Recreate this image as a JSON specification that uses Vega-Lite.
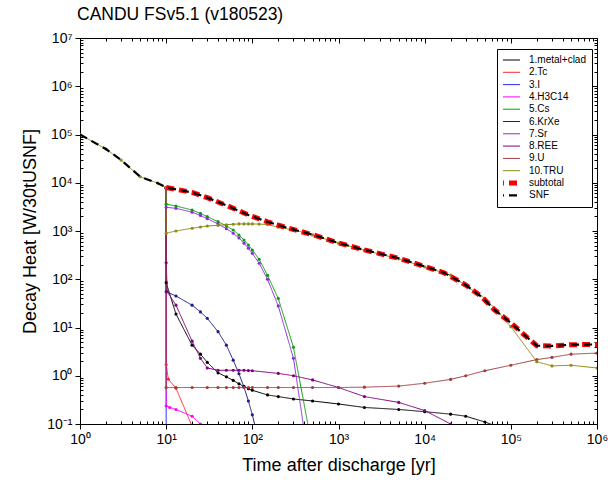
{
  "$schema": "https://vega.github.io/schema/vega-lite/v6.json",
  "width": 517,
  "height": 386,
  "autosize": {"type": "none"},
  "padding": {"left": 80, "top": 38, "right": 11, "bottom": 70},
  "title": {"text": "CANDU FSv5.1 (v180523)", "anchor": "start", "frame": "group", "offset": 8, "dx": -3, "fontSize": 17.5, "fontWeight": "normal", "font": "Liberation Sans", "color": "black"},
  "config": {
    "font": "Liberation Sans",
    "view": {"stroke": "black", "strokeWidth": 1},
    "axis": {"domain": false, "grid": false, "tickColor": "black", "tickWidth": 1, "labelColor": "black", "labelFontSize": 14, "labelFont": "Liberation Sans", "titleFont": "Liberation Sans", "titleFontSize": 18, "titleFontWeight": "normal", "titleColor": "black", "labelOverlap": false, "labelFlush": false},
    "legend": {"orient": "none", "legendX": 417, "legendY": 11, "strokeColor": "black", "fillColor": "white", "padding": 6, "labelFontSize": 10, "labelFont": "Liberation Sans", "labelColor": "black", "symbolType": "stroke", "symbolSize": 576, "clipHeight": 10, "rowPadding": 2.3, "labelOffset": 16, "symbolStrokeWidth": 1}
  },
  "data": {"values": [
    {"s": "1.metal+clad", "t": 10, "v": 7800}, {"s": "1.metal+clad", "t": 10, "v": 85}, {"s": "1.metal+clad", "t": 13, "v": 19}, {"s": "1.metal+clad", "t": 20, "v": 4.3}, {"s": "1.metal+clad", "t": 25, "v": 2.8}, {"s": "1.metal+clad", "t": 30, "v": 1.9}, {"s": "1.metal+clad", "t": 40, "v": 1.15}, {"s": "1.metal+clad", "t": 50, "v": 0.95}, {"s": "1.metal+clad", "t": 60, "v": 0.8}, {"s": "1.metal+clad", "t": 70, "v": 0.68}, {"s": "1.metal+clad", "t": 80, "v": 0.6}, {"s": "1.metal+clad", "t": 90, "v": 0.54}, {"s": "1.metal+clad", "t": 100, "v": 0.5}, {"s": "1.metal+clad", "t": 150, "v": 0.4}, {"s": "1.metal+clad", "t": 200, "v": 0.37}, {"s": "1.metal+clad", "t": 300, "v": 0.33}, {"s": "1.metal+clad", "t": 500, "v": 0.3}, {"s": "1.metal+clad", "t": 1000, "v": 0.26}, {"s": "1.metal+clad", "t": 2000, "v": 0.22}, {"s": "1.metal+clad", "t": 5000, "v": 0.2}, {"s": "1.metal+clad", "t": 10000, "v": 0.18}, {"s": "1.metal+clad", "t": 20000, "v": 0.16}, {"s": "1.metal+clad", "t": 30000, "v": 0.145}, {"s": "1.metal+clad", "t": 50000, "v": 0.11}, {"s": "1.metal+clad", "t": 100000, "v": 0.07},
    {"s": "2.Tc", "t": 10, "v": 7800}, {"s": "2.Tc", "t": 10, "v": 1.7}, {"s": "2.Tc", "t": 10.6, "v": 0.85}, {"s": "2.Tc", "t": 13, "v": 0.55}, {"s": "2.Tc", "t": 20, "v": 0.09},
    {"s": "3.I", "t": 10, "v": 7800}, {"s": "3.I", "t": 10, "v": 0.05}, {"s": "3.I", "t": 100, "v": 0.03},
    {"s": "4.H3C14", "t": 10, "v": 7800}, {"s": "4.H3C14", "t": 10, "v": 0.236}, {"s": "4.H3C14", "t": 11, "v": 0.22}, {"s": "4.H3C14", "t": 13, "v": 0.2}, {"s": "4.H3C14", "t": 20, "v": 0.145}, {"s": "4.H3C14", "t": 25, "v": 0.1}, {"s": "4.H3C14", "t": 30, "v": 0.08},
    {"s": "5.Cs", "t": 10, "v": 7800}, {"s": "5.Cs", "t": 10, "v": 3600}, {"s": "5.Cs", "t": 13, "v": 3300}, {"s": "5.Cs", "t": 20, "v": 2720}, {"s": "5.Cs", "t": 25, "v": 2320}, {"s": "5.Cs", "t": 30, "v": 1980}, {"s": "5.Cs", "t": 40, "v": 1560}, {"s": "5.Cs", "t": 50, "v": 1270}, {"s": "5.Cs", "t": 60, "v": 1050}, {"s": "5.Cs", "t": 70, "v": 826}, {"s": "5.Cs", "t": 80, "v": 650}, {"s": "5.Cs", "t": 90, "v": 513}, {"s": "5.Cs", "t": 100, "v": 403}, {"s": "5.Cs", "t": 120, "v": 259}, {"s": "5.Cs", "t": 150, "v": 120}, {"s": "5.Cs", "t": 200, "v": 40}, {"s": "5.Cs", "t": 300, "v": 3.9}, {"s": "5.Cs", "t": 500, "v": 0.03},
    {"s": "6.KrXe", "t": 10, "v": 7800}, {"s": "6.KrXe", "t": 10, "v": 55}, {"s": "6.KrXe", "t": 13, "v": 45}, {"s": "6.KrXe", "t": 20, "v": 29}, {"s": "6.KrXe", "t": 25, "v": 21}, {"s": "6.KrXe", "t": 30, "v": 15.5}, {"s": "6.KrXe", "t": 40, "v": 8.2}, {"s": "6.KrXe", "t": 50, "v": 4.3}, {"s": "6.KrXe", "t": 60, "v": 2.1}, {"s": "6.KrXe", "t": 70, "v": 1.1}, {"s": "6.KrXe", "t": 80, "v": 0.58}, {"s": "6.KrXe", "t": 90, "v": 0.3}, {"s": "6.KrXe", "t": 100, "v": 0.155}, {"s": "6.KrXe", "t": 120, "v": 0.04},
    {"s": "7.Sr", "t": 10, "v": 7800}, {"s": "7.Sr", "t": 10, "v": 3100}, {"s": "7.Sr", "t": 13, "v": 2950}, {"s": "7.Sr", "t": 20, "v": 2450}, {"s": "7.Sr", "t": 25, "v": 2100}, {"s": "7.Sr", "t": 30, "v": 1800}, {"s": "7.Sr", "t": 40, "v": 1400}, {"s": "7.Sr", "t": 50, "v": 1120}, {"s": "7.Sr", "t": 60, "v": 900}, {"s": "7.Sr", "t": 70, "v": 720}, {"s": "7.Sr", "t": 80, "v": 560}, {"s": "7.Sr", "t": 90, "v": 440}, {"s": "7.Sr", "t": 100, "v": 345}, {"s": "7.Sr", "t": 120, "v": 215}, {"s": "7.Sr", "t": 150, "v": 100}, {"s": "7.Sr", "t": 200, "v": 28}, {"s": "7.Sr", "t": 300, "v": 2.3}, {"s": "7.Sr", "t": 500, "v": 0.005},
    {"s": "8.REE", "t": 10, "v": 7800}, {"s": "8.REE", "t": 10, "v": 220}, {"s": "8.REE", "t": 10.3, "v": 55}, {"s": "8.REE", "t": 13, "v": 29}, {"s": "8.REE", "t": 20, "v": 5.2}, {"s": "8.REE", "t": 25, "v": 2.3}, {"s": "8.REE", "t": 30, "v": 1.45}, {"s": "8.REE", "t": 40, "v": 1.3}, {"s": "8.REE", "t": 50, "v": 1.3}, {"s": "8.REE", "t": 60, "v": 1.3}, {"s": "8.REE", "t": 70, "v": 1.3}, {"s": "8.REE", "t": 80, "v": 1.3}, {"s": "8.REE", "t": 90, "v": 1.28}, {"s": "8.REE", "t": 100, "v": 1.27}, {"s": "8.REE", "t": 200, "v": 1.12}, {"s": "8.REE", "t": 300, "v": 1.0}, {"s": "8.REE", "t": 500, "v": 0.82}, {"s": "8.REE", "t": 1000, "v": 0.57}, {"s": "8.REE", "t": 2000, "v": 0.37}, {"s": "8.REE", "t": 5000, "v": 0.28}, {"s": "8.REE", "t": 10000, "v": 0.19}, {"s": "8.REE", "t": 20000, "v": 0.1}, {"s": "8.REE", "t": 30000, "v": 0.05},
    {"s": "9.U", "t": 10, "v": 7800}, {"s": "9.U", "t": 10, "v": 0.57}, {"s": "9.U", "t": 13, "v": 0.57}, {"s": "9.U", "t": 20, "v": 0.57}, {"s": "9.U", "t": 30, "v": 0.57}, {"s": "9.U", "t": 40, "v": 0.57}, {"s": "9.U", "t": 50, "v": 0.57}, {"s": "9.U", "t": 60, "v": 0.57}, {"s": "9.U", "t": 70, "v": 0.57}, {"s": "9.U", "t": 80, "v": 0.57}, {"s": "9.U", "t": 90, "v": 0.57}, {"s": "9.U", "t": 100, "v": 0.57}, {"s": "9.U", "t": 150, "v": 0.57}, {"s": "9.U", "t": 200, "v": 0.57}, {"s": "9.U", "t": 300, "v": 0.57}, {"s": "9.U", "t": 500, "v": 0.57}, {"s": "9.U", "t": 1000, "v": 0.57}, {"s": "9.U", "t": 2000, "v": 0.58}, {"s": "9.U", "t": 5000, "v": 0.61}, {"s": "9.U", "t": 10000, "v": 0.7}, {"s": "9.U", "t": 20000, "v": 0.84}, {"s": "9.U", "t": 30000, "v": 1.0}, {"s": "9.U", "t": 50000, "v": 1.27}, {"s": "9.U", "t": 100000, "v": 1.65}, {"s": "9.U", "t": 200000, "v": 2.16}, {"s": "9.U", "t": 300000, "v": 2.4}, {"s": "9.U", "t": 500000, "v": 2.8}, {"s": "9.U", "t": 1000000, "v": 2.95},
    {"s": "10.TRU", "t": 1, "v": 100000}, {"s": "10.TRU", "t": 2, "v": 50000}, {"s": "10.TRU", "t": 3, "v": 29500}, {"s": "10.TRU", "t": 5, "v": 13300}, {"s": "10.TRU", "t": 8, "v": 9800}, {"s": "10.TRU", "t": 10, "v": 7800}, {"s": "10.TRU", "t": 10, "v": 900}, {"s": "10.TRU", "t": 13, "v": 1000}, {"s": "10.TRU", "t": 20, "v": 1140}, {"s": "10.TRU", "t": 25, "v": 1210}, {"s": "10.TRU", "t": 30, "v": 1270}, {"s": "10.TRU", "t": 40, "v": 1310}, {"s": "10.TRU", "t": 50, "v": 1350}, {"s": "10.TRU", "t": 60, "v": 1380}, {"s": "10.TRU", "t": 70, "v": 1400}, {"s": "10.TRU", "t": 80, "v": 1400}, {"s": "10.TRU", "t": 90, "v": 1400}, {"s": "10.TRU", "t": 100, "v": 1400}, {"s": "10.TRU", "t": 120, "v": 1390}, {"s": "10.TRU", "t": 150, "v": 1360}, {"s": "10.TRU", "t": 200, "v": 1200}, {"s": "10.TRU", "t": 300, "v": 1060}, {"s": "10.TRU", "t": 500, "v": 830}, {"s": "10.TRU", "t": 1000, "v": 560}, {"s": "10.TRU", "t": 2000, "v": 400}, {"s": "10.TRU", "t": 5000, "v": 265}, {"s": "10.TRU", "t": 10000, "v": 180}, {"s": "10.TRU", "t": 20000, "v": 122}, {"s": "10.TRU", "t": 30000, "v": 74}, {"s": "10.TRU", "t": 50000, "v": 40}, {"s": "10.TRU", "t": 70000, "v": 22}, {"s": "10.TRU", "t": 100000, "v": 10.4}, {"s": "10.TRU", "t": 200000, "v": 1.96}, {"s": "10.TRU", "t": 300000, "v": 1.6}, {"s": "10.TRU", "t": 500000, "v": 1.65}, {"s": "10.TRU", "t": 1000000, "v": 1.45},
    {"s": "subtotal", "t": 10, "v": 8000}, {"s": "subtotal", "t": 13, "v": 7300}, {"s": "subtotal", "t": 20, "v": 6300}, {"s": "subtotal", "t": 30, "v": 4900}, {"s": "subtotal", "t": 50, "v": 3400}, {"s": "subtotal", "t": 90, "v": 2150}, {"s": "subtotal", "t": 150, "v": 1550}, {"s": "subtotal", "t": 250, "v": 1170}, {"s": "subtotal", "t": 500, "v": 840}, {"s": "subtotal", "t": 1000, "v": 565}, {"s": "subtotal", "t": 2000, "v": 405}, {"s": "subtotal", "t": 5000, "v": 272}, {"s": "subtotal", "t": 10000, "v": 184}, {"s": "subtotal", "t": 17000, "v": 135}, {"s": "subtotal", "t": 30000, "v": 76}, {"s": "subtotal", "t": 46000, "v": 43}, {"s": "subtotal", "t": 65000, "v": 23}, {"s": "subtotal", "t": 100000, "v": 12.5}, {"s": "subtotal", "t": 130000, "v": 8.2}, {"s": "subtotal", "t": 200000, "v": 4.2}, {"s": "subtotal", "t": 300000, "v": 4.15}, {"s": "subtotal", "t": 500000, "v": 4.4}, {"s": "subtotal", "t": 1000000, "v": 4.45},
    {"s": "SNF", "t": 1, "v": 100000}, {"s": "SNF", "t": 2, "v": 50000}, {"s": "SNF", "t": 3, "v": 29500}, {"s": "SNF", "t": 5, "v": 13300}, {"s": "SNF", "t": 8, "v": 9800}, {"s": "SNF", "t": 10, "v": 8000}, {"s": "SNF", "t": 13, "v": 7300}, {"s": "SNF", "t": 20, "v": 6300}, {"s": "SNF", "t": 30, "v": 4900}, {"s": "SNF", "t": 50, "v": 3400}, {"s": "SNF", "t": 90, "v": 2150}, {"s": "SNF", "t": 150, "v": 1550}, {"s": "SNF", "t": 250, "v": 1170}, {"s": "SNF", "t": 500, "v": 840}, {"s": "SNF", "t": 1000, "v": 565}, {"s": "SNF", "t": 2000, "v": 405}, {"s": "SNF", "t": 5000, "v": 272}, {"s": "SNF", "t": 10000, "v": 184}, {"s": "SNF", "t": 17000, "v": 135}, {"s": "SNF", "t": 30000, "v": 76}, {"s": "SNF", "t": 46000, "v": 43}, {"s": "SNF", "t": 65000, "v": 23}, {"s": "SNF", "t": 100000, "v": 12.5}, {"s": "SNF", "t": 130000, "v": 8.2}, {"s": "SNF", "t": 200000, "v": 4.2}, {"s": "SNF", "t": 300000, "v": 4.15}, {"s": "SNF", "t": 500000, "v": 4.4}, {"s": "SNF", "t": 1000000, "v": 4.45}
  ]},
  "layer": [
    {
      "transform": [{"filter": "datum.s != 'subtotal' && datum.s != 'SNF'"}],
      "mark": {"type": "line", "clip": true, "strokeWidth": 1, "point": {"filled": true, "size": 10}},
      "encoding": {
        "x": {"field": "t", "type": "quantitative", "scale": {"type": "log", "domain": [1, 1000000]},
          "axis": {"orient": "bottom", "title": "Time after discharge [yr]", "titlePadding": 10,
            "values": [1,2,3,4,5,6,7,8,9,10,20,30,40,50,60,70,80,90,100,200,300,400,500,600,700,800,900,1000,2000,3000,4000,5000,6000,7000,8000,9000,10000,20000,30000,40000,50000,60000,70000,80000,90000,100000,200000,300000,400000,500000,600000,700000,800000,900000,1000000],
            "labelExpr": "abs(log(datum.value)/LN10 - round(log(datum.value)/LN10)) < 0.001 ? '10' + ['\u207b\u00b9','\u2070','\u00b9','\u00b2','\u00b3','\u2074','\u2075','\u2076','\u2077'][round(log(datum.value)/LN10) + 1] : ''",
            "labelPadding": 3,
            "tickSize": {"condition": {"test": "abs(log(datum.value)/LN10 - round(log(datum.value)/LN10)) < 0.001", "value": 5}, "value": -3}}},
        "y": {"field": "v", "type": "quantitative", "scale": {"type": "log", "domain": [0.1, 10000000]},
          "axis": {"orient": "left", "title": "Decay Heat [W/30tUSNF]", "titleX": -41, "titleY": 193,
            "values": [0.1,0.2,0.3,0.4,0.5,0.6,0.7,0.8,0.9,1,2,3,4,5,6,7,8,9,10,20,30,40,50,60,70,80,90,100,200,300,400,500,600,700,800,900,1000,2000,3000,4000,5000,6000,7000,8000,9000,10000,20000,30000,40000,50000,60000,70000,80000,90000,100000,200000,300000,400000,500000,600000,700000,800000,900000,1000000,2000000,3000000,4000000,5000000,6000000,7000000,8000000,9000000,10000000],
            "labelExpr": "abs(log(datum.value)/LN10 - round(log(datum.value)/LN10)) < 0.001 ? '10' + ['\u207b\u00b9','\u2070','\u00b9','\u00b2','\u00b3','\u2074','\u2075','\u2076','\u2077'][round(log(datum.value)/LN10) + 1] : ''",
            "labelPadding": 3,
            "tickSize": {"condition": {"test": "abs(log(datum.value)/LN10 - round(log(datum.value)/LN10)) < 0.001", "value": 5}, "value": -3}}},
        "color": {"field": "s", "type": "nominal",
          "legend": {"title": null, "encode": {"symbols": {"update": {"strokeWidth": {"signal": "datum.label == 'subtotal' ? 5 : datum.label == 'SNF' ? 2.2 : 1"}}}}},
          "scale": {"domain": ["1.metal+clad","2.Tc","3.I","4.H3C14","5.Cs","6.KrXe","7.Sr","8.REE","9.U","10.TRU","subtotal","SNF"],
            "range": ["#000000","#ff2a2a","#2a2aff","#ff00ff","#109a10","#1c1c8c","#8a2be2","#800080","#a03c3c","#8c8c14","#ff0000","#000000"]}},
        "strokeDash": {"field": "s", "type": "nominal", "legend": {"title": null},
          "scale": {"domain": ["1.metal+clad","2.Tc","3.I","4.H3C14","5.Cs","6.KrXe","7.Sr","8.REE","9.U","10.TRU","subtotal","SNF"],
            "range": [[1,0],[1,0],[1,0],[1,0],[1,0],[1,0],[1,0],[1,0],[1,0],[1,0],[8,5],[8,5]]}},
        "order": {"value": null}
      }
    },
    {
      "transform": [{"filter": "datum.s == 'subtotal'"}],
      "mark": {"type": "line", "clip": true, "strokeWidth": 5},
      "encoding": {
        "x": {"field": "t", "type": "quantitative", "scale": {"type": "log", "domain": [1, 1000000]},
          "axis": {"orient": "top", "title": null, "labels": false,
            "values": [1,2,3,4,5,6,7,8,9,10,20,30,40,50,60,70,80,90,100,200,300,400,500,600,700,800,900,1000,2000,3000,4000,5000,6000,7000,8000,9000,10000,20000,30000,40000,50000,60000,70000,80000,90000,100000,200000,300000,400000,500000,600000,700000,800000,900000,1000000],
            "tickSize": {"condition": {"test": "abs(log(datum.value)/LN10 - round(log(datum.value)/LN10)) < 0.001", "value": -5}, "value": -3}}},
        "y": {"field": "v", "type": "quantitative", "scale": {"type": "log", "domain": [0.1, 10000000]},
          "axis": {"orient": "right", "title": null, "labels": false,
            "values": [0.1,0.2,0.3,0.4,0.5,0.6,0.7,0.8,0.9,1,2,3,4,5,6,7,8,9,10,20,30,40,50,60,70,80,90,100,200,300,400,500,600,700,800,900,1000,2000,3000,4000,5000,6000,7000,8000,9000,10000,20000,30000,40000,50000,60000,70000,80000,90000,100000,200000,300000,400000,500000,600000,700000,800000,900000,1000000,2000000,3000000,4000000,5000000,6000000,7000000,8000000,9000000,10000000],
            "tickSize": {"condition": {"test": "abs(log(datum.value)/LN10 - round(log(datum.value)/LN10)) < 0.001", "value": -5}, "value": -3}}},
        "color": {"field": "s", "type": "nominal", "legend": {"title": null},
          "scale": {"domain": ["1.metal+clad","2.Tc","3.I","4.H3C14","5.Cs","6.KrXe","7.Sr","8.REE","9.U","10.TRU","subtotal","SNF"],
            "range": ["#000000","#ff2a2a","#2a2aff","#ff00ff","#109a10","#1c1c8c","#8a2be2","#800080","#a03c3c","#8c8c14","#ff0000","#000000"]}},
        "strokeDash": {"field": "s", "type": "nominal", "legend": {"title": null},
          "scale": {"domain": ["1.metal+clad","2.Tc","3.I","4.H3C14","5.Cs","6.KrXe","7.Sr","8.REE","9.U","10.TRU","subtotal","SNF"],
            "range": [[1,0],[1,0],[1,0],[1,0],[1,0],[1,0],[1,0],[1,0],[1,0],[1,0],[8,5],[8,5]]}}
      }
    },
    {
      "transform": [{"filter": "datum.s == 'SNF'"}],
      "mark": {"type": "line", "clip": true, "strokeWidth": 2.2},
      "encoding": {
        "x": {"field": "t", "type": "quantitative", "scale": {"type": "log", "domain": [1, 1000000]}, "axis": null},
        "y": {"field": "v", "type": "quantitative", "scale": {"type": "log", "domain": [0.1, 10000000]}, "axis": null},
        "color": {"field": "s", "type": "nominal", "legend": {"title": null},
          "scale": {"domain": ["1.metal+clad","2.Tc","3.I","4.H3C14","5.Cs","6.KrXe","7.Sr","8.REE","9.U","10.TRU","subtotal","SNF"],
            "range": ["#000000","#ff2a2a","#2a2aff","#ff00ff","#109a10","#1c1c8c","#8a2be2","#800080","#a03c3c","#8c8c14","#ff0000","#000000"]}},
        "strokeDash": {"field": "s", "type": "nominal", "legend": {"title": null},
          "scale": {"domain": ["1.metal+clad","2.Tc","3.I","4.H3C14","5.Cs","6.KrXe","7.Sr","8.REE","9.U","10.TRU","subtotal","SNF"],
            "range": [[1,0],[1,0],[1,0],[1,0],[1,0],[1,0],[1,0],[1,0],[1,0],[1,0],[8,5],[8,5]]}}
      }
    }
  ],
  "resolve": {"axis": {"x": "independent", "y": "independent"}}
}
